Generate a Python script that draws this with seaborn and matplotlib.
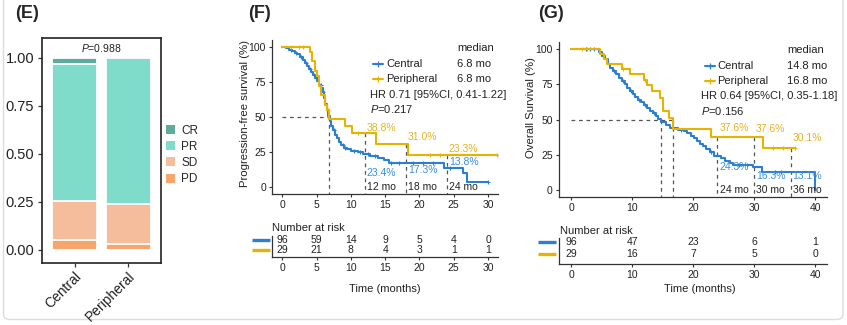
import numpy as np
import matplotlib
matplotlib.use("Agg")
import matplotlib.pyplot as plt
import seaborn as sns
from matplotlib.lines import Line2D
from matplotlib.patches import Patch, FancyBboxPatch

# ------------------------------------------------------------------ data
resp_groups = ["Central", "Peripheral"]
resp_labels = ["CR", "PR", "SD", "PD"]
resp_CR = [0.033, 0.0]
resp_PR = [0.713, 0.76]
resp_SD = [0.200, 0.21]
resp_PD = [0.054, 0.03]
resp_p = "0.988"

# PFS (panel F)
pfs_c_t = [0, 0.5, 1.0, 1.4, 1.8, 2.2, 2.6, 3.0, 3.3, 3.6, 3.9, 4.2, 4.5, 4.8, 5.1, 5.4,
           5.7, 5.9, 6.1, 6.3, 6.5, 6.7, 6.9, 7.1, 7.4, 7.7, 8.0, 8.3, 8.6, 9.0, 9.5, 10.0,
           11.0, 11.8, 12.8, 14.0, 14.8, 15.5, 23.6, 26.3, 27.0, 30.0]
pfs_c_s = [100, 99.0, 97.9, 96.9, 95.8, 94.8, 92.7, 90.6, 88.5, 86.5, 84.4, 82.3, 80.2, 78.1,
           76.0, 72.9, 70.8, 67.7, 63.5, 59.4, 55.2, 51.0, 46.9, 43.8, 40.6, 37.5, 35.4, 32.3,
           30.2, 28.1, 27.1, 26.0, 25.0, 23.4, 22.3, 21.2, 19.1, 17.3, 13.8, 10.4, 3.45, 3.45]
pfs_c_cens = [1.2, 2.0, 2.8, 3.5, 4.0, 4.6, 5.0, 5.6, 6.0, 7.5, 8.8, 9.2, 10.5, 11.3,
              12.5, 13.5, 15.8, 17.0, 19.0, 20.5, 22.0, 24.5, 30.0]
pfs_p_t = [0, 4.0, 4.3, 4.7, 5.0, 5.3, 5.7, 6.2, 6.5, 6.8, 9.1, 10.1, 13.6, 18.3, 31.3]
pfs_p_s = [100, 96.6, 89.7, 82.8, 79.3, 72.4, 65.5, 58.6, 55.2, 49.0, 43.5, 38.8, 31.0, 23.3, 23.3]
pfs_p_cens = [1.3, 2.5, 3.0, 6.6, 11.0, 21.5, 23.0, 31.3]

pfs_median = ["6.8 mo", "6.8 mo"]
pfs_hr = "HR 0.71 [95%CI, 0.41-1.22]"
pfs_p = "0.217"
pfs_marks = [12, 18, 24]
pfs_mark_c = ["23.4%", "17.3%", "13.8%"]
pfs_mark_p = ["38.8%", "31.0%", "23.3%"]
pfs_risk_t = [0, 5, 10, 15, 20, 25, 30]
pfs_risk_c = [96, 59, 14, 9, 5, 4, 0]
pfs_risk_p = [29, 21, 8, 4, 3, 1, 1]

# OS (panel G)
os_c_t = [0, 4.6, 5.0, 5.5, 6.0, 6.4, 6.9, 7.3, 7.8, 8.3, 8.8, 9.1, 9.6, 10.1, 10.5, 11.0,
          11.5, 11.9, 12.4, 12.9, 13.4, 13.9, 14.3, 14.8, 15.5, 16.2, 17.6, 18.5, 19.0, 19.6,
          20.1, 20.7, 21.2, 21.7, 22.2, 22.8, 23.5, 24.6, 25.3, 26.0, 26.6, 29.8, 31.3, 40.0]
os_c_s = [100, 97.9, 95.0, 92.8, 89.7, 86.6, 84.5, 82.4, 79.5, 77.3, 75.2, 72.4, 70.3, 68.2,
          66.4, 64.3, 62.5, 60.5, 58.4, 56.3, 54.5, 52.4, 50.3, 48.0, 46.0, 44.0, 42.8, 41.6,
          40.4, 38.6, 36.8, 35.0, 33.0, 31.0, 29.0, 26.8, 24.3, 22.6, 20.9, 19.2, 17.6, 16.3,
          13.1, 0.0]
os_c_cens = [2.4, 3.1, 3.7, 5.2, 7.0, 8.5, 9.8, 11.2, 12.2, 13.6, 18.0, 23.0, 27.5,
             28.8, 33.5, 34.5]
os_p_t = [0, 4.8, 5.4, 5.9, 8.3, 9.7, 11.9, 12.4, 13.2, 14.6, 15.1, 16.0, 16.8, 23.0, 31.5, 36.8]
os_p_s = [100, 96.6, 93.1, 89.7, 86.2, 82.6, 78.5, 74.4, 70.3, 65.6, 56.1, 51.4, 43.1, 37.6,
          30.1, 30.1]
os_p_cens = [1.8, 2.7, 8.6, 12.1, 33.1, 34.8, 36.8]

os_median = ["14.8 mo", "16.8 mo"]
os_hr = "HR 0.64 [95%CI, 0.35-1.18]"
os_p = "0.156"
os_marks = [24, 30, 36]
os_mark_c = ["24.3%", "16.3%", "13.1%"]
os_mark_p = ["37.6%", "37.6%", "30.1%"]
os_risk_t = [0, 10, 20, 30, 40]
os_risk_c = [96, 47, 23, 6, 1]
os_risk_p = [29, 16, 7, 5, 0]

# ------------------------------------------------------------------ style
sns.set_style("ticks")
plt.rcParams["font.family"] = ["Liberation Sans", "DejaVu Sans"]
plt.rcParams["mathtext.fontset"] = "custom"
plt.rcParams["mathtext.rm"] = "Liberation Sans"
plt.rcParams["mathtext.it"] = "Liberation Sans:italic"

BLUE = "#2b7fd2"
YEL = "#e6b400"
BLUE_T = "#3c8fdf"
YEL_T = "#e4b320"
C_CR, C_PR, C_SD, C_PD = "#5fab9b", "#7fdccb", "#f6bd9d", "#f6a56d"
AX_C = "#333333"
TXT = "#222222"

W, H = 847, 325
fig = plt.figure(figsize=(W / 100, H / 100), dpi=100)
fig.patch.set_facecolor("white")


def ax_px(l, t, r, b):
    return fig.add_axes([l / W, 1 - b / H, (r - l) / W, (b - t) / H])


def ftext(x, y, s, **kw):
    return fig.text(x / W, 1 - y / H, s, **kw)


# outer rounded frame
fig.patches.append(FancyBboxPatch((0.035, 0.055), 8.395, 3.6,
                                  boxstyle="round,pad=0,rounding_size=0.06",
                                  transform=fig.dpi_scale_trans, fc="none",
                                  ec="#dcdcdc", lw=1.0, zorder=-5))

# ------------------------------------------------------------------ panel E
axE = ax_px(42, 38, 161, 263)
cum_pd = np.array(resp_PD)
cum_sd = cum_pd + np.array(resp_SD)
cum_pr = cum_sd + np.array(resp_PR)
cum_cr = cum_pr + np.array(resp_CR)
for vals, col in [(cum_cr, C_CR), (cum_pr, C_PR), (cum_sd, C_SD), (cum_pd, C_PD)]:
    sns.barplot(x=resp_groups, y=vals, color=col, width=0.85, edgecolor="white",
                linewidth=1.3, saturation=1, ax=axE)
axE.set_xlim(-0.61, 1.61)
axE.set_ylim(-0.068, 1.104)
axE.set_yticks([0, 0.25, 0.5, 0.75, 1.0])
axE.set_yticklabels(["0.00", "0.25", "0.50", "0.75", "1.00"], fontsize=10.5, color=TXT)
axE.set_xticks([0, 1])
axE.set_xticklabels(resp_groups, rotation=45, ha="right", rotation_mode="anchor",
                    fontsize=10, color=TXT)
axE.tick_params(axis="both", length=3, width=0.9, color=AX_C, pad=2.5)
axE.tick_params(axis="x", pad=1.5)
for sp in axE.spines.values():
    sp.set_visible(True)
    sp.set_color(TXT)
    sp.set_linewidth(1.2)
axE.set_xlabel("")
axE.set_ylabel("")
axE.text(0.5, 1.054, r"$\it{P}$=" + resp_p, ha="center", va="center", fontsize=7.5,
         color=TXT)
handles = [Patch(facecolor=c, edgecolor="none") for c in [C_CR, C_PR, C_SD, C_PD]]
axE.legend(handles, resp_labels, loc="center left", bbox_to_anchor=(1.04, 0.48),
           frameon=False, fontsize=8.5, handlelength=0.8, handleheight=0.8,
           handletextpad=0.5, labelspacing=0.35, borderaxespad=0, borderpad=0)
ftext(15, 13.5, "(E)", fontsize=13, fontweight="bold", ha="left", va="center")


# ------------------------------------------------------------------ KM helpers
def step_at(t, s, x):
    t = np.asarray(t)
    s = np.asarray(s)
    idx = np.searchsorted(t, np.asarray(x), side="right") - 1
    return s[idx]


def km_panel(ax, xmax, curves, medians_t, marks, mark_c_lbl, mark_p_lbl,
             c_lbl_y, p_lbl_y, xticks):
    ax.set_xlim(-xmax * 0.05, xmax * 1.05)
    ax.set_ylim(-5, 105)
    ymin = -5
    ax.plot([0, max(medians_t)], [50, 50], ls=(0, (3, 3)), color="#555555", lw=0.9)
    for m in medians_t:
        ax.plot([m, m], [50, ymin], ls=(0, (3, 3)), color="#555555", lw=0.9)
    (pt, ps) = curves[1][0], curves[1][1]
    for mk in marks:
        ax.plot([mk, mk], [step_at(pt, ps, mk), ymin], ls=(0, (3, 3)), color="#555555", lw=0.9)
    for (t, s, cens, col) in curves:
        sns.lineplot(x=t, y=s, ax=ax, color=col, drawstyle="steps-post", lw=1.5,
                     estimator=None, sort=False, legend=False)
        ax.plot(cens, step_at(t, s, cens), ls="none", marker="+", ms=3.5, mew=0.8, color=col)
    for i, mk in enumerate(marks):
        ax.text(mk + 0.3, c_lbl_y[i], mark_c_lbl[i], color=BLUE_T, fontsize=7.5,
                ha="left", va="center")
        ax.text(mk + 0.3, p_lbl_y[i], mark_p_lbl[i], color=YEL_T, fontsize=7.5,
                ha="left", va="center")
        ax.text(mk + 0.35, 0, f"{mk} mo", color=TXT, fontsize=7.5,
                ha="left", va="center")
    ax.set_xticks(xticks)
    ax.set_yticks([0, 25, 50, 75, 100])
    ax.tick_params(axis="both", length=2.2, width=0.8, color=AX_C, pad=2.2,
                   labelsize=7.5, labelcolor=TXT)
    sns.despine(ax=ax)
    for sp in ["left", "bottom"]:
        ax.spines[sp].set_color(AX_C)
        ax.spines[sp].set_linewidth(0.9)
    ax.set_xlabel("")
    ax.set_ylabel("")


def legend_block(ax, x_line, x_text, x_med, y_rows, y_med, y_hr, y_p, medians, hr, p):
    ax.text(x_med, y_med, "median", transform=ax.transAxes, fontsize=8, ha="left",
            va="center", color=TXT)
    for (lbl, col, y, med) in zip(["Central", "Peripheral"], [BLUE, YEL], y_rows, medians):
        ax.add_line(Line2D([x_line[0], (x_line[0] + x_line[1]) / 2, x_line[1]], [y, y, y],
                           transform=ax.transAxes, color=col, lw=1.5, marker="+",
                           markevery=[1], ms=4, mew=0.9, clip_on=False))
        ax.text(x_text, y, lbl, transform=ax.transAxes, fontsize=8, ha="left",
                va="center", color=TXT)
        ax.text(x_med, y, med, transform=ax.transAxes, fontsize=8, ha="left",
                va="center", color=TXT)
    ax.text(x_line[0] - 0.015, y_hr, hr, transform=ax.transAxes, fontsize=8, ha="left",
            va="center", color=TXT)
    ax.text(x_line[0] - 0.015, y_p, r"$\it{P}$=" + p, transform=ax.transAxes, fontsize=8,
            ha="left", va="center", color=TXT)


def risk_table(ax, xmax, times, nc, npp, bar_x):
    ax.set_xlim(-xmax * 0.05, xmax * 1.05)
    for tt, a, b in zip(times, nc, npp):
        ax.text(tt, 1, str(a), ha="center", va="center", fontsize=7.5, color=TXT)
        ax.text(tt, 0, str(b), ha="center", va="center", fontsize=7.5, color=TXT)
    trans = matplotlib.transforms.blended_transform_factory(ax.transAxes, ax.transData)
    for y, col in [(1, BLUE), (0, YEL)]:
        ax.add_line(Line2D(bar_x, [y, y], transform=trans, color=col, lw=2.4,
                           solid_capstyle="butt", clip_on=False))
    ax.set_xticks(times)
    ax.set_yticks([])
    ax.tick_params(axis="x", length=2.2, width=0.8, color=AX_C, pad=2.2, labelsize=7.5,
                   labelcolor=TXT)
    sns.despine(ax=ax)
    for sp in ["left", "bottom"]:
        ax.spines[sp].set_color(AX_C)
        ax.spines[sp].set_linewidth(0.9)


# ------------------------------------------------------------------ panel F
axF = ax_px(272, 40, 498.3, 194.3)
km_panel(axF, 30,
         [(pfs_c_t, pfs_c_s, pfs_c_cens, BLUE), (pfs_p_t, pfs_p_s, pfs_p_cens, YEL)],
         [6.8], pfs_marks, pfs_mark_c, pfs_mark_p,
         [10.5, 12.5, 17.7], [42.5, 35.5, 27.5], [0, 5, 10, 15, 20, 25, 30])
legend_block(axF, (0.446, 0.49), 0.505, 0.817, [0.844, 0.747], 0.948, 0.646, 0.555,
             pfs_median, pfs_hr, pfs_p)
ftext(245, 113, "Progression-free survival (%)", rotation=90, fontsize=8.2,
      ha="center", va="center", color=TXT)
axFr = ax_px(272, 236, 498.3, 257.3)
axFr.set_ylim(-0.73, 1.4)
risk_table(axFr, 30, pfs_risk_t, pfs_risk_c, pfs_risk_p, [-0.09, -0.008])
ftext(272, 228.3, "Number at risk", fontsize=8, ha="left", va="center", color=TXT)
ftext(385, 289, "Time (months)", fontsize=8, ha="center", va="center", color=TXT)
ftext(248, 13.5, "(F)", fontsize=13, fontweight="bold", ha="left", va="center")

# ------------------------------------------------------------------ panel G
axG = ax_px(558.8, 42.3, 827.2, 197)
km_panel(axG, 40,
         [(os_c_t, os_c_s, os_c_cens, BLUE), (os_p_t, os_p_s, os_p_cens, YEL)],
         [14.8, 16.8], os_marks, os_mark_c, os_mark_p,
         [16.6, 10.2, 10.2], [43.9, 43.1, 36.7], [0, 10, 20, 30, 40])
legend_block(axG, (0.545, 0.582), 0.59, 0.85, [0.85, 0.753], 0.95, 0.65, 0.559,
             os_median, os_hr, os_p)
ftext(531.5, 108, "Overall Survival (%)", rotation=90, fontsize=8.2,
      ha="center", va="center", color=TXT)
axGr = ax_px(558.8, 238, 827.2, 264)
axGr.set_ylim(-0.81, 1.3)
risk_table(axGr, 40, os_risk_t, os_risk_c, os_risk_p, [-0.0775, -0.01])
ftext(560, 230.7, "Number at risk", fontsize=8, ha="left", va="center", color=TXT)
ftext(700, 289, "Time (months)", fontsize=8, ha="center", va="center", color=TXT)
ftext(538, 13.5, "(G)", fontsize=13, fontweight="bold", ha="left", va="center")

fig.savefig("out.png", dpi=100, facecolor="white")
